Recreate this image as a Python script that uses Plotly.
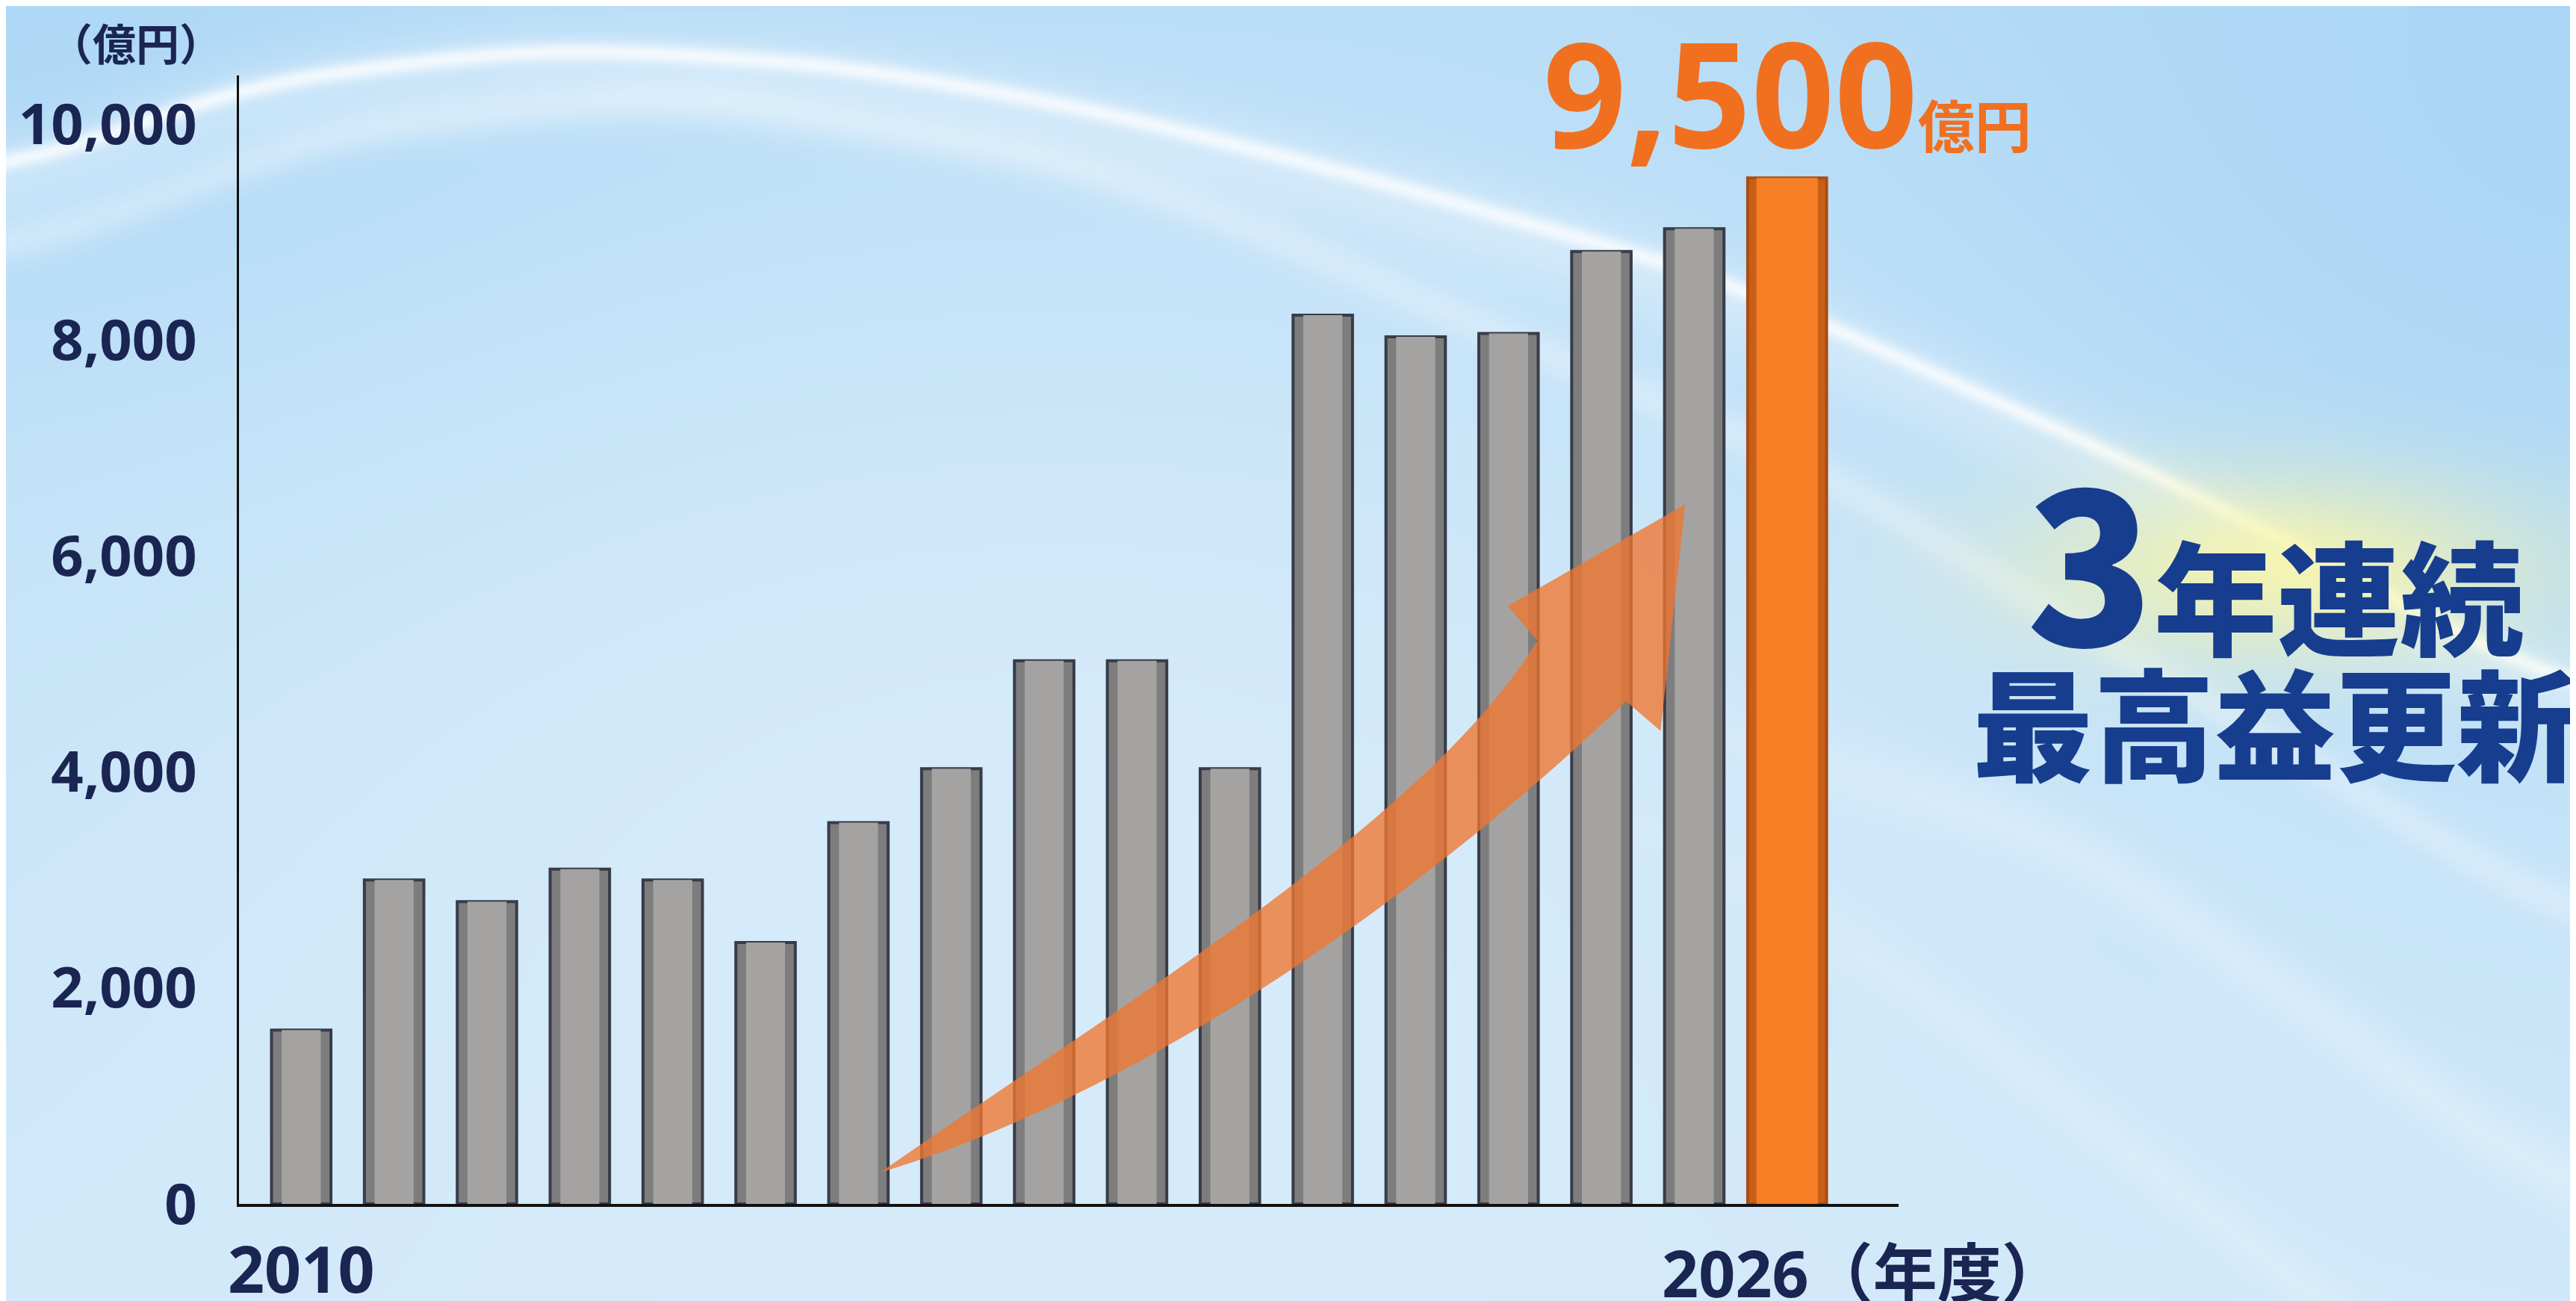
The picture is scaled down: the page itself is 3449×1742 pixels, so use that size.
import base64, struct, zlib
import numpy as np
import plotly.graph_objects as go

# ---------------- data ----------------
years = list(range(2010, 2027))
values = [1610, 3000, 2800, 3100, 3000, 2420, 3530, 4030, 5030, 5030, 4030,
          8230, 8030, 8060, 8820, 9030, 9500]
highlight_year = 2026
y_ticks = [0, 2000, 4000, 6000, 8000, 10000]
x_tick_vals = [2010]
x_tick_text = ["2010"]
unit_label = "（億円）"
last_label = "2026（年度）"
target_value_text = "9,500"
target_unit_text = "億円"
headline_num = "3"
headline_1 = "年連続"
headline_2 = "最高益更新"

W_PX, H_PX = 3449, 1742
NAVY = "#1b2552"
HEAD_NAVY = "#173d8e"

# ---------------- background image (gradient + swooshes) ----------------
def make_png(arr):
    h, w, _ = arr.shape
    raw = b"".join(b"\x00" + arr[i].tobytes() for i in range(h))
    def chunk(tag, data):
        c = struct.pack(">I", len(data)) + tag + data
        return c + struct.pack(">I", zlib.crc32(tag + data) & 0xffffffff)
    png = b"\x89PNG\r\n\x1a\n"
    png += chunk(b"IHDR", struct.pack(">IIBBBBB", w, h, 8, 2, 0, 0, 0))
    png += chunk(b"IDAT", zlib.compress(raw, 9))
    png += chunk(b"IEND", b"")
    return "data:image/png;base64," + base64.b64encode(png).decode()

BW, BH = 784, 396
gx = np.linspace(0, 1568, BW)
gy = np.linspace(0, 792, BH)
X, Y = np.meshgrid(gx, gy)
blue = np.array([168, 213, 245], float)
pale = np.array([222, 239, 251], float)
t = 0.28 + 0.45 * (Y / 792)
t += 0.30 * np.exp(-((X - 650) / 650) ** 2 - ((Y - 430) / 380) ** 2)
t -= 0.30 * np.exp(-((X - 1568) / 420) ** 2 - ((Y - 150) / 300) ** 2)
t -= 0.20 * np.exp(-(X / 320) ** 2 - (Y / 220) ** 2)
t = np.clip(t, 0, 1)[..., None]
img = blue * (1 - t) + pale * t

_k = np.exp(-0.5 * (np.arange(-60, 61) / 22.0) ** 2)
_k /= _k.sum()


def band_curve(px, py):
    c = np.interp(gx, px, py)
    pad = np.concatenate([np.full(60, c[0]), c, np.full(60, c[-1])])
    return np.convolve(pad, _k, mode="valid")[None, :]


yA = band_curve([0, 150, 330, 500, 653, 815, 1045, 1300, 1568],
                [100, 45, 24, 34, 60, 100, 165, 280, 420])
yB = band_curve([0, 200, 409, 653, 773, 876, 1100, 1568],
                [150, 75, 52, 95, 140, 185, 280, 560])
yC = band_curve([900, 1260, 1568], [400, 510, 730])
yD = band_curve([950, 1136, 1411, 1568], [470, 578, 790, 900])
band = 0.65 * np.exp(-((Y - yA) / 6) ** 2) + 0.30 * np.exp(-((Y - yA - 10) / 28) ** 2)
band += 0.32 * np.exp(-((Y - yB) / 14) ** 2)
band += 0.28 * np.exp(-((Y - yC) / 22) ** 2) / (1 + np.exp(-(X - 1050) / 60))
band += 0.22 * np.exp(-((Y - yD) / 22) ** 2) / (1 + np.exp(-(X - 1050) / 60))
band = np.clip(band, 0, 1)[..., None]
img = img * (1 - band) + np.array([248, 252, 255], float) * band

glow = (0.85 * np.exp(-((X - 1385) / 150) ** 2 - ((Y - 342) / 55) ** 2))[..., None]
img = img * (1 - glow) + np.array([250, 246, 168], float) * glow
bg_uri = make_png(np.clip(img, 0, 255).astype(np.uint8))

# ---------------- figure ----------------
is_hi = [y == highlight_year for y in years]
outer_colors = ["#c95e17" if h else "#7e7d7e" for h in is_hi]
outer_lines = ["#a94d14" if h else "#383c48" for h in is_hi]
outer_widths = [0.85 if h else 0.64 for h in is_hi]
inner_colors = ["#f67e25" if h else "#a5a3a2" for h in is_hi]
inner_widths = [0.66 if h else 0.42 for h in is_hi]

fig = go.Figure()
fig.add_trace(go.Bar(
    x=years, y=values, width=outer_widths,
    marker=dict(color=outer_colors, line=dict(color=outer_lines, width=4)),
    hoverinfo="skip",
))
fig.add_trace(go.Bar(
    x=years, y=values, width=inner_widths,
    marker=dict(color=inner_colors, line=dict(width=0)),
    hoverinfo="skip",
))

# curved decorative arrow (sketched in the 1568x792 view, mapped to data units)
def xd(px):
    return 2010 + (px - 183) / 56.5

def yd(py):
    return (735 - py) / 0.06575

def pt(px, py):
    return f"{xd(px):.4f},{yd(py):.2f}"

arrow_path = (
    f"M {pt(535,716)} "
    f"C {pt(680,615)} {pt(870,500)} {pt(935,392)} "
    f"L {pt(917,371)} L {pt(1025,309)} L {pt(1010,447)} L {pt(989,429)} "
    f"C {pt(900,515)} {pt(720,660)} {pt(535,716)} Z"
)
fig.add_shape(type="path", path=arrow_path, xref="x", yref="y",
              fillcolor="rgba(240,118,48,0.78)", line=dict(width=0), layer="above")

font_num = "Noto Sans, Noto Sans CJK JP, sans-serif"
font_jp = "Noto Sans CJK JP, Noto Sans, sans-serif"

fig.update_layout(
    width=W_PX, height=H_PX,
    margin=dict(l=0, r=0, t=0, b=0, autoexpand=False),
    paper_bgcolor="#cfe7f9",
    plot_bgcolor="rgba(0,0,0,0)",
    showlegend=False,
    barmode="overlay",
    images=[dict(source=bg_uri, xref="paper", yref="paper", x=0, y=1,
                 sizex=1, sizey=1, sizing="stretch", layer="below",
                 xanchor="left", yanchor="top")],
    xaxis=dict(
        domain=[312 / W_PX, 2534 / W_PX],
        range=[2009.33, 2027.2],
        tickvals=x_tick_vals, ticktext=x_tick_text,
        ticks="outside", ticklen=12, tickcolor="rgba(0,0,0,0)",
        tickfont=dict(family=font_num, size=86, color=NAVY, weight=700),
        showline=True, linecolor="#111111", linewidth=4,
        showgrid=False, zeroline=False, fixedrange=True, automargin=False,
    ),
    yaxis=dict(
        domain=[1 - 1604 / H_PX, 1 - 93 / H_PX],
        range=[0, 10450],
        tickvals=y_ticks, tickformat=",",
        ticks="outside", ticklen=38, tickcolor="rgba(0,0,0,0)",
        tickfont=dict(family=font_num, size=76, color=NAVY, weight=700),
        showline=True, linecolor="#111111", linewidth=3,
        showgrid=False, zeroline=False, fixedrange=True, automargin=False,
    ),
)

fig.add_annotation(text=unit_label, xref="paper", yref="paper",
                   x=79 / 1568, y=1 - 22 / 792, xanchor="center", yanchor="middle",
                   showarrow=False,
                   font=dict(family=font_jp, size=58, color=NAVY, weight=700))
fig.add_annotation(text=last_label, xref="x", yref="paper",
                   x=2026, xshift=-170, y=1 - 771 / 792, xanchor="left", yanchor="middle",
                   showarrow=False,
                   font=dict(family=font_num, size=86, color=NAVY, weight=700))
fig.add_annotation(
    text=(f"<span style='font-size:195px'>{target_value_text}</span>"
          f"<span style='font-size:76px'>{target_unit_text}</span>"),
    xref="x", yref="paper", x=2026, y=1 - 52 / 792, xanchor="center", yanchor="middle",
    showarrow=False,
    font=dict(family=font_num, size=195, color="#f07020", weight=700))
fig.add_annotation(
    text=(f"<span style='font-size:280px'>{headline_num}</span>"
          f"<span style='font-size:165px'>{headline_1}</span><br>"
          f"<span style='font-size:162px'>{headline_2}</span>"),
    xref="paper", yref="paper", x=1381 / 1568, y=1 - 365 / 792,
    xanchor="center", yanchor="middle", showarrow=False, align="center",
    font=dict(family=font_jp, size=130, color=HEAD_NAVY, weight=900))

fig.write_html("out.html")
